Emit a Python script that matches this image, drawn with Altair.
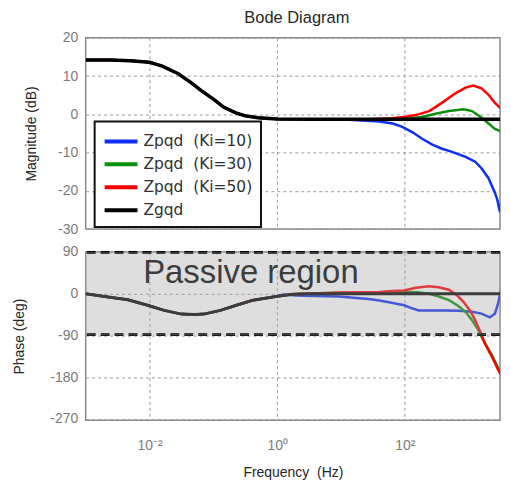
import altair as alt
import pandas as pd

# ---------------- data (log10 of frequency in Hz) -------------
series_names = ["Zpqd\u00a0 (Ki=10)", "Zpqd\u00a0 (Ki=30)", "Zpqd\u00a0 (Ki=50)", "Zgqd"]
series_colors = ["#0f2ff0", "#0a8f0a", "#ff0000", "#000000"]

# Zgqd (shared low-frequency part of every curve)
g_mag_lf = [-3.0, -2.6, -2.3, -2.0, -1.8, -1.55, -1.35, -1.19, -1.0, -0.84, -0.65, -0.5, -0.3, 0.0, 0.5, 1.0, 1.5, 2.0, 2.5, 3.0, 3.63]
g_mag = [14.2, 14.2, 14.0, 13.6, 12.6, 10.6, 8.3, 6.2, 4.0, 1.9, 0.4, -0.4, -0.9, -1.2, -1.3, -1.3, -1.3, -1.3, -1.3, -1.3, -1.3]
g_ph_lf = [-3.0, -2.65, -2.34, -2.03, -1.77, -1.5, -1.3, -1.15, -0.89, -0.64, -0.38, -0.02, 0.24, 0.5, 1.0, 2.0, 3.0, 3.63]
g_ph = [0, -7, -13, -25, -36, -44, -45, -44, -36, -25, -14, -6, -1, 0, 0, 0, 0, 0]

# Zpqd Ki=10 (blue)
b_mag_lf = [1.0, 1.2, 1.4, 1.6, 1.81, 1.96, 2.12, 2.27, 2.43, 2.58, 2.74, 2.95, 3.10, 3.20, 3.31, 3.41, 3.45, 3.48, 3.51, 3.55, 3.59, 3.63]
b_mag = [-1.3, -1.5, -1.7, -1.9, -2.4, -3.3, -4.7, -6.4, -7.9, -9.0, -9.8, -11.1, -12.4, -14.1, -16.7, -20.5, -22.5, -24.8, -23.5, -22.2, -21.0, -20.1]
b_ph_lf = [0.1, 0.3, 0.6, 0.96, 1.29, 1.43, 1.6, 1.81, 1.99, 2.12, 2.22, 2.63, 2.84, 3.05, 3.2, 3.33, 3.41, 3.46, 3.51, 3.57, 3.63]
b_ph = [-2, -4, -5, -6, -10, -11.5, -14.5, -20, -25, -32, -36, -36, -37, -39, -43, -51, -43, -21, 11, 32, 39]

# Zpqd Ki=30 (green)
gr_mag_lf = [1.5, 1.8, 2.0, 2.15, 2.27, 2.48, 2.69, 2.92, 3.05, 3.15, 3.26, 3.41, 3.54, 3.63]
gr_mag = [-1.3, -1.2, -1.0, -0.9, -0.7, 0.15, 0.85, 1.3, 0.85, -0.25, -1.7, -3.8, -4.7, -4.7]
gr_ph_lf = [0.24, 0.5, 0.8, 1.0, 1.3, 1.6, 1.81, 2.0, 2.2, 2.38, 2.53, 2.69, 2.82, 2.95, 3.05, 3.15, 3.23, 3.36, 3.46, 3.57, 3.63]
gr_ph = [-1, 0.5, 1.5, 2.5, 3, 3, 3.5, 3.5, 3, 0, -6, -14, -25, -39, -57, -78, -100, -132, -160, -189, -221]

# Zpqd Ki=50 (red)
r_mag_lf = [1.5, 1.8, 1.99, 2.17, 2.38, 2.58, 2.79, 2.95, 3.07, 3.20, 3.31, 3.41, 3.51, 3.63]
r_mag = [-1.2, -1.0, -0.7, -0.2, 0.85, 3.0, 5.5, 7.0, 7.5, 6.8, 5.1, 3.0, 1.4, 1.0]
r_ph_lf = [0.24, 0.5, 0.8, 1.0, 1.3, 1.6, 1.81, 1.99, 2.17, 2.38, 2.53, 2.69, 2.82, 2.92, 3.02, 3.10, 3.18, 3.25, 3.36, 3.46, 3.57, 3.63]
r_ph = [-1, 0.5, 1.5, 2.5, 3, 3.5, 5.6, 7, 13, 16, 14, 8.5, -3.6, -18, -36, -57, -82, -107, -135, -164, -192, -214]

mag_ticks = [20, 10, 0, -10, -20, -30]
ph_ticks = [90, 0, -90, -180, -270]
freq_tick_exps = [-2, 0, 2]
freq_tick_labels = ["10\u207b\u00b2", "10\u2070", "10\u00b2"]
freq_domain_exp = [-3.0, 3.49]
passive_bounds = [90, -90]
passive_lines = [89, -88]
passive_label = "Passive region"
passive_label_at = [-2.1, 24]   # log10 f, deg


def build(lf_lo, v_lo, lf_hi, v_hi, name):
    rows = [(10 ** f, v, name) for f, v in zip(lf_lo, v_lo) if f < lf_hi[0]]
    rows += [(10 ** f, v, name) for f, v in zip(lf_hi, v_hi)]
    return rows


mag_rows = []
ph_rows = []
for name, ml, mv, pl, pv in [
    (series_names[0], b_mag_lf, b_mag, b_ph_lf, b_ph),
    (series_names[1], gr_mag_lf, gr_mag, gr_ph_lf, gr_ph),
    (series_names[2], r_mag_lf, r_mag, r_ph_lf, r_ph),
]:
    mag_rows += build(g_mag_lf, g_mag, ml, mv, name)
    ph_rows += build(g_ph_lf, g_ph, pl, pv, name)
mag_rows += [(10 ** f, v, series_names[3]) for f, v in zip(g_mag_lf, g_mag)]
ph_rows += [(10 ** f, v, series_names[3]) for f, v in zip(g_ph_lf, g_ph)]

mag_df = pd.DataFrame(mag_rows, columns=["f", "v", "s"])
ph_df = pd.DataFrame(ph_rows, columns=["f", "v", "s"])
mag_df["o"] = range(len(mag_df))
ph_df["o"] = range(len(ph_df))

FONT = "Liberation Sans"
W = 416
fmin, fmax = 10 ** freq_domain_exp[0], 10 ** freq_domain_exp[1]

label_expr = ""
for e, lab in zip(freq_tick_exps, freq_tick_labels):
    label_expr += f"round(log(datum.value)/LN10) == {e} ? '{lab}' : "
label_expr += "''"

xscale = alt.Scale(type="log", domain=[fmin, fmax], nice=False)
ph_yscale = alt.Scale(domain=[-273, 90], nice=False)
grid_kw = dict(grid=True, gridColor="#9a9a9a", gridDash=[3, 3], gridWidth=1)

color_scale = alt.Scale(domain=series_names, range=series_colors)

x_mag = alt.X("f:Q", scale=xscale,
              axis=alt.Axis(values=[10 ** e for e in freq_tick_exps], labels=False, ticks=False,
                            domain=False, title=None, **grid_kw))
ph_xaxis = alt.Axis(values=[10 ** e for e in freq_tick_exps], labelExpr=label_expr, ticks=False,
                    domain=False, title="Frequency\u00a0 (Hz)", labelPadding=18,
                    titlePadding=13, **grid_kw)
ph_yaxis = alt.Axis(values=ph_ticks, labelExpr="'' + datum.value", ticks=False, domain=False,
                    title="Phase (deg)", labelPadding=8, titlePadding=23, **grid_kw)

y_mag = alt.Y("v:Q", scale=alt.Scale(domain=[-30, 20], nice=False),
              axis=alt.Axis(values=mag_ticks, labelExpr="'' + datum.value", ticks=False, domain=False,
                            title="Magnitude (dB)", labelPadding=8, titlePadding=19, **grid_kw))

legend = alt.Legend(title=None, orient="none", legendX=9, legendY=84,
                    symbolType="M-1,0H2.3", symbolSize=400, symbolStrokeWidth=4,
                    labelFontSize=15.5, labelFont="DejaVu Sans", labelColor="#303030", labelOffset=17,
                    padding=8, rowPadding=2, strokeColor="#111111", fillColor="white")

colored = series_names[:3]

mag_lines = alt.Chart(mag_df).transform_filter(
    alt.FieldOneOfPredicate(field="s", oneOf=colored)
).mark_line(strokeWidth=2.5, clip=True).encode(
    x=x_mag, y=y_mag,
    color=alt.Color("s:N", scale=color_scale, legend=legend, sort=series_names),
    order="o:Q",
)
mag_black = alt.Chart(mag_df).transform_filter(
    alt.FieldEqualPredicate(field="s", equal=series_names[3])
).mark_line(strokeWidth=3.5, clip=True).encode(
    x=x_mag, y=y_mag,
    color=alt.Color("s:N", scale=color_scale, legend=legend, sort=series_names),
    order="o:Q",
)
mag = alt.layer(mag_lines, mag_black).properties(
    width=W, height=192,
    title=alt.TitleParams("Bode Diagram", anchor="middle", frame="group", fontSize=16.5,
                          font=FONT, color="#262626", fontWeight="normal", offset=4, dx=4),
)

ph_lines = alt.Chart(ph_df).transform_filter(
    alt.FieldOneOfPredicate(field="s", oneOf=colored)
).mark_line(strokeWidth=2.5, clip=True).encode(
    x=alt.X("f:Q", scale=xscale, axis=ph_xaxis),
    y=alt.Y("v:Q", scale=ph_yscale, axis=ph_yaxis),
    color=alt.Color("s:N", scale=color_scale, legend=None),
    order="o:Q",
)
ph_black = alt.Chart(ph_df).transform_filter(
    alt.FieldEqualPredicate(field="s", equal=series_names[3])
).mark_line(strokeWidth=3, clip=True).encode(
    x=alt.X("f:Q", scale=xscale, axis=ph_xaxis),
    y=alt.Y("v:Q", scale=ph_yscale, axis=ph_yaxis),
    color=alt.Color("s:N", scale=color_scale, legend=None),
    order="o:Q",
)
rules = alt.Chart(pd.DataFrame({"v": passive_lines})).mark_rule(
    color="black", strokeWidth=3, strokeDash=[9, 5]
).encode(y=alt.Y("v:Q", scale=ph_yscale, axis=ph_yaxis))
label = alt.Chart(pd.DataFrame({"f": [10 ** passive_label_at[0]], "v": [passive_label_at[1]],
                                "t": [passive_label]})).mark_text(
    font=FONT, fontSize=33, color="black", align="left", baseline="alphabetic"
).encode(x=alt.X("f:Q", scale=xscale, axis=ph_xaxis),
         y=alt.Y("v:Q", scale=ph_yscale, axis=ph_yaxis), text="t:N")
overlay = alt.Chart(pd.DataFrame({"f": [fmin], "b": [fmax], "v": [passive_bounds[0]],
                                  "bot": [passive_bounds[1]]})).mark_rect(
    color="#a4a4a4", opacity=0.365
).encode(x=alt.X("f:Q", scale=xscale, axis=ph_xaxis), x2="b:Q",
         y=alt.Y("v:Q", scale=ph_yscale, axis=ph_yaxis), y2="bot:Q")

ph = alt.layer(ph_lines, ph_black, rules, label, overlay).properties(width=W, height=169)

chart = alt.vconcat(mag, ph, spacing=7).resolve_legend(color="independent").properties(
    padding={"left": 4, "top": 0, "right": 0, "bottom": 0}
).configure_view(
    stroke="#8a8a8a", strokeWidth=1.5
).configure_axis(
    labelFont=FONT, labelFontSize=14, labelColor="#7a7a7a",
    titleFont=FONT, titleFontSize=14, titleColor="#262626", titleFontWeight="normal",
).configure_legend(strokeWidth=2)

chart.save("out.html", embed_options={"renderer": "svg", "actions": False})
